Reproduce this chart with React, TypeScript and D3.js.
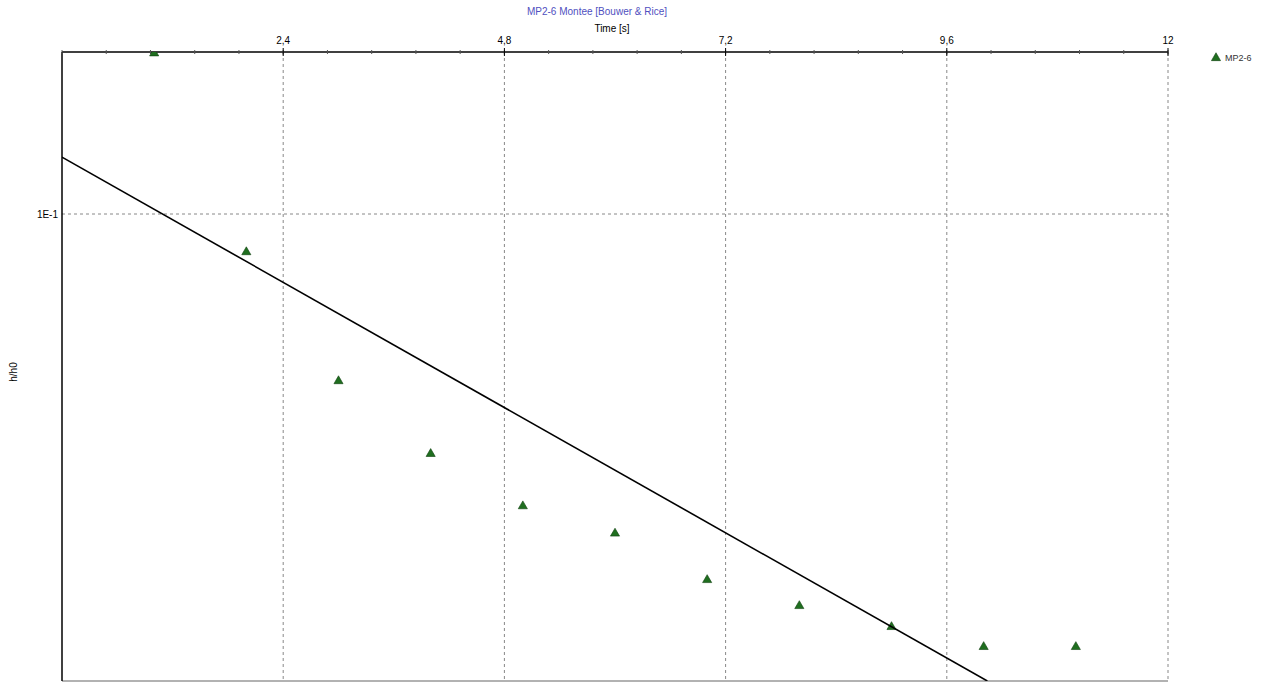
import React from "react";
import * as d3 from "d3";

const times = [1, 2, 3, 4, 5, 6, 7, 8, 9, 10, 11];
const ratios = [0.222, 0.0833, 0.0441, 0.0308, 0.0238, 0.0208, 0.01654, 0.01455, 0.01312, 0.01189, 0.01189];
const fitTimes = [0, 10.04];
const fitRatios = [0.1324, 0.01];
const xTicks = [2.4, 4.8, 7.2, 9.6, 12];
const xTickLabels = ["2,4", "4,8", "7,2", "9,6", "12"];
const yTicks = [0.1];
const yTickLabels = ["1E-1"];
const title = "MP2-6 Montee [Bouwer & Rice]";
const xTitle = "Time [s]";
const yTitle = "h/h0";
const seriesName = "MP2-6";

const L = 62, R = 1168, T = 52, B = 681;

export default function App() {
  const x = d3.scaleLinear().domain([0, 12]).range([L, R]);
  const y = d3.scaleLog().domain([0.01, 0.2223]).range([B, T]);
  const minor = d3.range(0, 12.0001, 0.48);
  const tri = d3.symbol().type(d3.symbolTriangle).size(36)();
  const line = d3
    .line<number>()
    .x((_, i) => x(fitTimes[i]))
    .y((d) => y(d));
  const font = "'Liberation Sans', Arial, sans-serif";
  return (
    <svg
      width={1270}
      height={687}
      style={{ position: "absolute", left: 0, top: 0, background: "#fff" }}
      fontFamily={font}
    >
      <defs>
        <clipPath id="plot">
          <rect x={L} y={T} width={R - L} height={B - T} />
        </clipPath>
      </defs>
      <rect x={0} y={0} width={1270} height={687} fill="#fff" />
      {xTicks.map((t) => (
        <line key={"gx" + t} x1={x(t)} x2={x(t)} y1={T} y2={B} stroke="#888" strokeDasharray="3,3" strokeWidth={1} />
      ))}
      {yTicks.map((t) => (
        <line key={"gy" + t} x1={L} x2={R} y1={y(t)} y2={y(t)} stroke="#888" strokeDasharray="3,3" strokeWidth={1} />
      ))}
      <line x1={L} x2={R} y1={B} y2={B} stroke="#999" strokeWidth={1.5} />
      <line x1={L} x2={L} y1={T} y2={B} stroke="#000" strokeWidth={1.5} />
      <line x1={L} x2={R} y1={T} y2={T} stroke="#000" strokeWidth={1.5} />
      {minor.map((t, i) => (
        <line key={"mt" + i} x1={x(t)} x2={x(t)} y1={T - 2} y2={T + 2} stroke="#555" strokeWidth={1} />
      ))}
      {xTicks.map((t) => (
        <line key={"mj" + t} x1={x(t)} x2={x(t)} y1={T - 4} y2={T + 4} stroke="#000" strokeWidth={1} />
      ))}
      {xTicks.map((t, i) => (
        <text key={"xl" + t} x={x(t)} y={44} fontSize={10} textAnchor="middle" fill="#000">
          {xTickLabels[i]}
        </text>
      ))}
      {yTicks.map((t, i) => (
        <text key={"yl" + t} x={L - 4} y={y(t) + 3.5} fontSize={10} textAnchor="end" fill="#000">
          {yTickLabels[i]}
        </text>
      ))}
      <text x={597} y={15} fontSize={10} textAnchor="middle" fill="#5050c0">
        {title}
      </text>
      <text x={612} y={32} fontSize={10} textAnchor="middle" fill="#000">
        {xTitle}
      </text>
      <text x={17} y={372} fontSize={10} textAnchor="middle" fill="#000" transform="rotate(-90 17 372)">
        {yTitle}
      </text>
      <g clipPath="url(#plot)">
        {times.map((t, i) => (
          <path
            key={"p" + i}
            d={tri as string}
            transform={`translate(${x(t)},${y(ratios[i]) + 1})`}
            fill="#1f6e1f"
            stroke="#0d400d"
            strokeWidth={0.6}
          />
        ))}
        <path d={line(fitRatios) as string} fill="none" stroke="#000" strokeWidth={1.6} />
      </g>
      <path d={tri as string} transform="translate(1216,58)" fill="#1f6e1f" stroke="#0d400d" strokeWidth={0.6} />
      <text x={1225} y={61} fontSize={9} fill="#333">
        {seriesName}
      </text>
    </svg>
  );
}
